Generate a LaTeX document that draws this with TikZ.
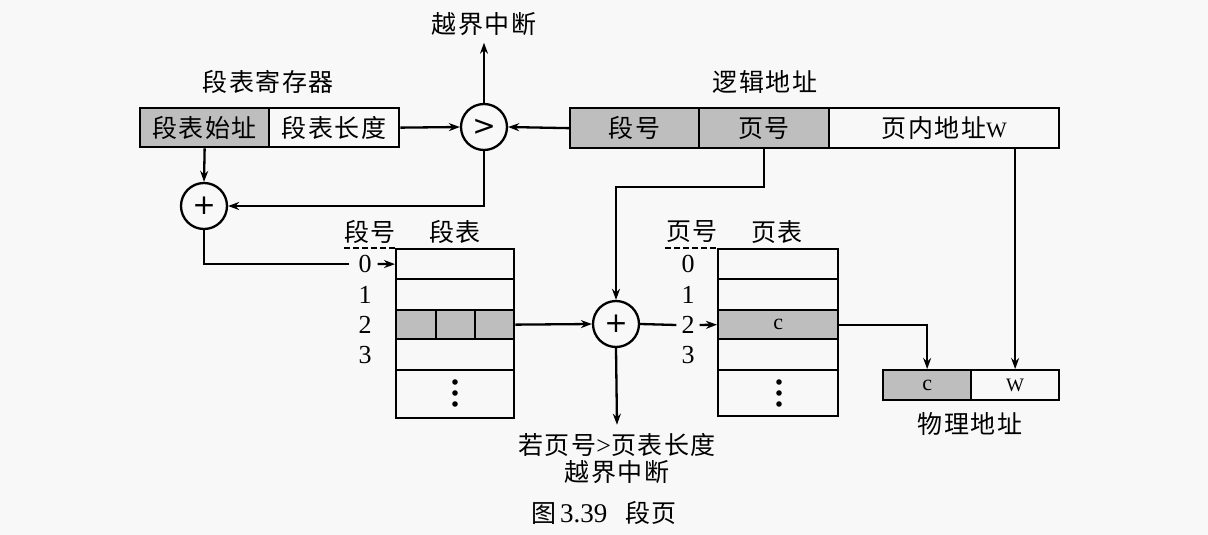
\documentclass[tikz,border=0pt]{standalone}
\usepackage{fontspec}
\setmainfont{Liberation Serif}
\newfontfamily\cjk[LetterSpace=6]{Noto Sans CJK SC}
\newfontfamily\opfont{DejaVu Sans}
\usetikzlibrary{arrows.meta,calc}
\definecolor{bg}{HTML}{F8F8F8}
\definecolor{cellgray}{HTML}{BEBEBE}
\begin{document}
\begin{tikzpicture}[x=1pt,y=-1pt,line width=2.3pt,
  >={Stealth[length=11pt,width=8pt]},
  lbl/.style={font=\cjk\fontsize{25}{29}\selectfont,inner sep=0pt,align=center},
  num/.style={font=\fontsize{26}{28}\selectfont,inner sep=0pt},
  cell/.style={draw,anchor=north west,inner sep=0pt,minimum height=#1,font=\cjk\fontsize{25}{29}\selectfont},
  gcell/.style={cell=#1,fill=cellgray},
  op/.style={draw,circle,minimum size=46pt,inner sep=0pt,font=\opfont\fontsize{28}{30}\selectfont}]
\fill[bg] (0,0) rectangle (1208,535);
\useasboundingbox (0,0) rectangle (1208,535);

% segment table register
\node[lbl] (regt) at (268,82) {段表寄存器};
\node[gcell=39pt,minimum width=129pt] (rb1) at (139,107) {段表始址};
\node[cell=39pt,minimum width=130pt] (rb2) at (268,107) {段表长度};

% logical address
\node[lbl] (lat) at (765,82) {逻辑地址};
\node[gcell=40pt,minimum width=129pt] (la1) at (569,107) {段号};
\node[gcell=40pt,minimum width=130pt] (la2) at (698,107) {页号};
\node[cell=40pt,minimum width=230pt] (la3) at (828,107) {页内地址{\rmfamily\fontsize{22}{24}\selectfont W}};

% comparator & adders
\node[op] (cmp) at (484,127) {>};
\node[lbl] (ovf1) at (484,24) {越界中断};
\node[op] (add1) at (204,206) {+};
\node[op] (add2) at (616,324) {+};

% segment table
\node[lbl] (sh1) at (370,232) {段号};
\node[lbl] (sh2) at (455,232) {段表};
\node[cell=30pt,minimum width=118pt] (st0) at (395,248) {};
\node[cell=31pt,minimum width=118pt] (st1) at (395,278) {};
\node[gcell=29pt,minimum width=40pt] (st2a) at (395,309) {};
\node[gcell=29pt,minimum width=39pt] (st2b) at (435,309) {};
\node[gcell=29pt,minimum width=39pt] (st2c) at (474,309) {};
\node[cell=31pt,minimum width=118pt] (st3) at (395,338) {};
\node[cell=48pt,minimum width=118pt] (st4) at (395,369) {};
\node[num] (s0) at (365,264) {0};
\node[num] (s1) at (365,295) {1};
\node[num] (s2) at (365,325) {2};
\node[num] (s3) at (365,355) {3};
\coordinate (sd) at (344,248);
\draw[dash pattern=on 6pt off 3pt,line width=1.6pt] (sd) -- (st0.north west);
\foreach \yy in {382,393,404} \fill (455,\yy) circle (2.8pt);

% page table
\node[lbl] (ph) at (692,232) {页号};
\node[lbl] (pt) at (777,232) {页表};
\node[cell=30pt,minimum width=120pt] (pt0) at (717,248) {};
\node[cell=31pt,minimum width=120pt] (pt1) at (717,278) {};
\node[gcell=29pt,minimum width=120pt,font=\fontsize{22}{24}\selectfont] (pt2) at (717,309) {c};
\node[cell=31pt,minimum width=120pt] (pt3) at (717,338) {};
\node[cell=46pt,minimum width=120pt] (pt4) at (717,369) {};
\node[num] (p0) at (688,264) {0};
\node[num] (p1) at (688,295) {1};
\node[num] (p2) at (688,325) {2};
\node[num] (p3) at (688,355) {3};
\coordinate (pd) at (665,248);
\draw[dash pattern=on 6pt off 3pt,line width=1.6pt] (pd) -- (pt0.north west);
\foreach \yy in {382,393,404} \fill (779,\yy) circle (2.8pt);

% physical address
\node[gcell=30pt,minimum width=88pt,font=\fontsize{22}{24}\selectfont] (pa1) at (882,369) {c};
\node[cell=30pt,minimum width=88pt,font=\fontsize{19}{21}\selectfont] (pa2) at (970,369) {W};
\node[lbl] (pat) at (970,424) {物理地址};

% overflow note
\node[lbl,font=\cjk\fontsize{25}{27}\selectfont] (ovf2) at (617,459) {若页号{\rmfamily\fontsize{26}{28}\selectfont >}页表长度\\越界中断};

% caption
\node[lbl] (cap) at (604,513) {图\,{\rmfamily\fontsize{27}{29}\selectfont 3.39}\hspace{18pt}段页};

% connectors
\draw[->] (rb2.east) -- (cmp.west);
\draw[->] (la1.west) -- (cmp.east);
\draw[->] (cmp.north) -- ([yshift=-6pt]ovf1.south);
\draw[->] (rb1.south) -- (add1.north);
\draw[->] (cmp.south) |- (add1.east);
\draw (add1.south) |- ([xshift=-8pt]s0.west);
\draw[->] ([xshift=5pt]s0.east) -- (st0.west);
\draw[->] (st2c.east) -- (add2.west);
\draw[->] (la2.south) -- ++(0,38) -| (add2.north);
\draw[->] (add2.south) -- ([yshift=8pt]ovf2.north);
\draw (add2.east) -- ([xshift=-4pt]p2.west);
\draw[->] ([xshift=4pt]p2.east) -- (pt2.west);
\draw[->] (pt2.east) -| (pa1.north);
\draw[->] (pa2.north |- la3.south) -- (pa2.north);
\end{tikzpicture}
\end{document}
